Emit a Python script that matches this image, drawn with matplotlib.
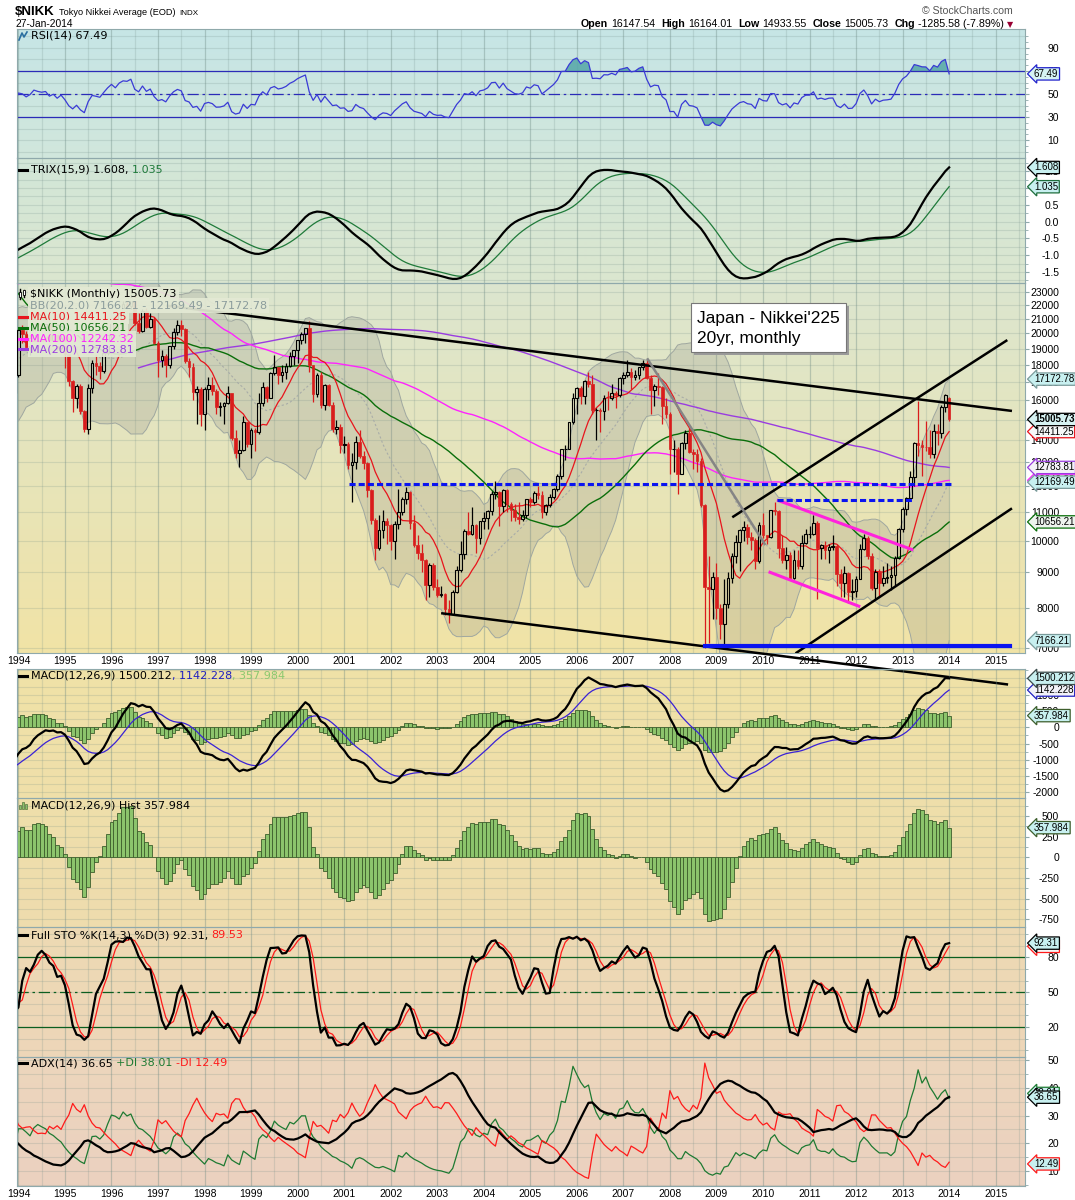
import numpy as np
import pandas as pd
import matplotlib
matplotlib.use("Agg")
import matplotlib.pyplot as plt
from matplotlib.colors import to_rgb
from matplotlib.lines import Line2D
from matplotlib.patches import Rectangle
from matplotlib.ticker import FixedLocator, NullFormatter
from matplotlib.transforms import blended_transform_factory

plt.rcParams["font.family"] = ["Liberation Sans", "DejaVu Sans"]

W, H, DPI = 1075, 1200, 100

# ---------------------------------------------------------------------------
# Data: Nikkei 225 monthly (warm-up closes 1980-1990 only
# feed the long moving averages)
# ---------------------------------------------------------------------------
warmup_close = [
    6650, 6700, 6600, 6750, 6900, 6950, 6950, 7050, 6800, 7000, 7250, 7116,          # 1980
    7250, 7350, 7450, 7650, 7600, 7850, 7900, 7650, 7200, 7600, 7550, 7682,          # 1981
    7750, 7600, 7100, 7300, 7400, 7100, 7000, 6900, 7000, 7400, 7900, 8017,          # 1982
    8000, 8050, 8300, 8500, 8600, 8800, 8900, 8900, 9100, 9200, 9300, 9894,          # 1983
    10200, 10000, 10500, 10800, 10400, 10000, 10200, 10800, 10800, 11000, 11400, 11543,  # 1984
    11800, 12000, 12600, 12400, 12500, 12700, 12100, 12300, 12700, 12800, 12800, 13113,  # 1985
    13000, 13600, 15800, 15800, 16500, 17600, 17800, 18800, 17400, 16900, 17800, 18701,  # 1986
    20000, 20700, 21600, 23300, 25000, 24200, 24500, 26000, 26000, 23300, 22600, 21564,  # 1987
    23700, 25000, 26200, 27400, 27400, 27800, 28000, 27400, 27900, 28000, 29600, 30159,  # 1988
    31600, 31900, 32800, 33700, 34200, 33000, 34900, 34500, 35600, 35500, 37300, 38916,  # 1989
    37200, 34600, 29900, 29500, 33100, 31900, 31000, 25900, 20980, 25200, 22450, 23849,  # 1990
]

# Jan 1991 .. Jan 2014
close = [
    23300, 26400, 26300, 26100, 25800, 23300, 23900, 22300, 23900, 25200, 22700, 22984,  # 1991
    22000, 21300, 19300, 17400, 18300, 15950, 15900, 17700, 17400, 16800, 17700, 16925,  # 1992
    17000, 16950, 18600, 20900, 20550, 19600, 20380, 21000, 20100, 19700, 16400, 17417,  # 1993
    20229, 19997, 19112, 19725, 20974, 20644, 20449, 20629, 19564, 19990, 19076, 19723,  # 1994
    18650, 17053, 16140, 16807, 15437, 14517, 16678, 18117, 17913, 17655, 18744, 19868,  # 1995
    20813, 20125, 21407, 22041, 21956, 22531, 20693, 20167, 21556, 20467, 21020, 19361,  # 1996
    18330, 18557, 18003, 19151, 20069, 20605, 20331, 18229, 17888, 16459, 16636, 15259,  # 1997
    16629, 16832, 16527, 15642, 15671, 15831, 16379, 14108, 13406, 13565, 14884, 13842,  # 1998
    14500, 14368, 15837, 16702, 16112, 17530, 17862, 17437, 17605, 17942, 18558, 18934,  # 1999
    19540, 19960, 20337, 17974, 16332, 17411, 15727, 16861, 15747, 14540, 14649, 13786,  # 2000
    13844, 12884, 12999, 13934, 13262, 12969, 11861, 10714, 9775, 10367, 10697, 10543,   # 2001
    9998, 10588, 11025, 11493, 11764, 10622, 9877, 9619, 9383, 8640, 9216, 8579,         # 2002
    8340, 8363, 7973, 7831, 8425, 9083, 9563, 10344, 10219, 10560, 10101, 10677,         # 2003
    10784, 11042, 11715, 11762, 11236, 11858, 11326, 11082, 10824, 10771, 10899, 11489,  # 2004
    11388, 11741, 11669, 11009, 11277, 11584, 11900, 12414, 13574, 13607, 14872, 16111,  # 2005
    16650, 16205, 17060, 16906, 15467, 15505, 15457, 16141, 16128, 16399, 16274, 17226,  # 2006
    17383, 17604, 17288, 17400, 17876, 18138, 17249, 16569, 16786, 16738, 15681, 15308,  # 2007
    13592, 13603, 12526, 13850, 14338, 13481, 13377, 13073, 11260, 8577, 8512, 8860,     # 2008
    7994, 7568, 8110, 8828, 9523, 9958, 10357, 10493, 10133, 10035, 9346, 10546,         # 2009
    10198, 10126, 11090, 11057, 9768, 9383, 9537, 8824, 9369, 9202, 9937, 10229,         # 2010
    10238, 10624, 9755, 9850, 9694, 9816, 9833, 8955, 8700, 8988, 8434, 8455,            # 2011
    8803, 9723, 10084, 9521, 8543, 9007, 8695, 8840, 8870, 8928, 9446, 10395,            # 2012
    11139, 11559, 12398, 13861, 13775, 13677, 13668, 13389, 14456, 14328, 15662, 16291,  # 2013
    15005.73,                                                                            # 2014
]
high = [
    24100, 26500, 27100, 26900, 26500, 26000, 24300, 24000, 24200, 25300, 25300, 23200,  # 1991
    23800, 22300, 21500, 19500, 18900, 18400, 16500, 18000, 18900, 17600, 17900, 17800,  # 1992
    17300, 17400, 18700, 21000, 21200, 20800, 20500, 21300, 21200, 20600, 19900, 17900,  # 1993
    20300, 20600, 20200, 20000, 21000, 21550, 21000, 20800, 20700, 20100, 20000, 19900,  # 1994
    19800, 18700, 17100, 16900, 16900, 15500, 16900, 18300, 18600, 18200, 18800, 19900,  # 1995
    20900, 21200, 21500, 22300, 22300, 22750, 22700, 21400, 21700, 21800, 21400, 21100,  # 1996
    19500, 18900, 18700, 19200, 20400, 20900, 20900, 20400, 18400, 18100, 16800, 16700,  # 1997
    16700, 17300, 17300, 16600, 15900, 15900, 16800, 16400, 14500, 14000, 15200, 14900,  # 1998
    14600, 14600, 16400, 17000, 16800, 17600, 18600, 17900, 18000, 18100, 18800, 18950,  # 1999
    19600, 20100, 20400, 20833, 18000, 17500, 17600, 16900, 16900, 15900, 15000, 14800,  # 2000
    14200, 13900, 13400, 14200, 14500, 13500, 13000, 11900, 10800, 10900, 11100, 10800,  # 2001
    10600, 10700, 11900, 11600, 11980, 11800, 10900, 10200, 9900, 9400, 9300, 9300,      # 2002
    8800, 8600, 8400, 8200, 8500, 9200, 10000, 10400, 11000, 11200, 10600, 10700,        # 2003
    11000, 11100, 11800, 12200, 11800, 11900, 11900, 11400, 11300, 11400, 11100, 11500,  # 2004
    11600, 11800, 12000, 11800, 11300, 11700, 11950, 12500, 13600, 13800, 14900, 16400,  # 2005
    16700, 16800, 17100, 17563, 17400, 15600, 15600, 16300, 16500, 16900, 16500, 17300,  # 2006
    17600, 18300, 17800, 17700, 17900, 18300, 18297, 17400, 16900, 17500, 16800, 16100,  # 2007
    15400, 14000, 13700, 13900, 14500, 14600, 13600, 13600, 13200, 11300, 9500, 9000,    # 2008
    9300, 8100, 8800, 9000, 9600, 10200, 10400, 10700, 10600, 10300, 10100, 10640,       # 2009
    10980, 10200, 11100, 11408, 11100, 10200, 9800, 9650, 9700, 9700, 10200, 10400,      # 2010
    10520, 10900, 10700, 9900, 10000, 9900, 10200, 9900, 9100, 9200, 9000, 8800,         # 2011
    8900, 9900, 10250, 10150, 9600, 9100, 9100, 9200, 9300, 9200, 9500, 10450,           # 2012
    11200, 11600, 12650, 13900, 15942, 14000, 14950, 14500, 14800, 14800, 15750, 16320,  # 2013
    16164.01,                                                                            # 2014
]
low = [
    22100, 23200, 25900, 25600, 25300, 23000, 22800, 21500, 22200, 23800, 22500, 21800,  # 1991
    21400, 20300, 19100, 16600, 17200, 15700, 15000, 14300, 17200, 16400, 16700, 16800,  # 1992
    16300, 16500, 16700, 18500, 20100, 19500, 19300, 20000, 19800, 19400, 16100, 16100,  # 1993
    17300, 19400, 19000, 18600, 19700, 20500, 20300, 20200, 19300, 19400, 18900, 18900,  # 1994
    17800, 16800, 15400, 15600, 15300, 14400, 14300, 16400, 17400, 17200, 17500, 18600,  # 1995
    19700, 19900, 19800, 21300, 21400, 21700, 20600, 20000, 20100, 20400, 20400, 19300,  # 1996
    17300, 17900, 17300, 17800, 19000, 19900, 19800, 18100, 17300, 16000, 14800, 14700,  # 1997
    14500, 16000, 16300, 15300, 15200, 14800, 15800, 14000, 13200, 12800, 13500, 13700,  # 1998
    13200, 13500, 14300, 15700, 15900, 16100, 17400, 16900, 17000, 17200, 17900, 18000,  # 1999
    18100, 19300, 19400, 17600, 15900, 16200, 15600, 15500, 15700, 14400, 14300, 13400,  # 2000
    13400, 12700, 11400, 12700, 13200, 12700, 11600, 10600, 9380, 9700, 10100, 9900,     # 2001
    9700, 9400, 10400, 10900, 11300, 10400, 9800, 9400, 9000, 8200, 8300, 8500,          # 2002
    8300, 8300, 7800, 7600, 7800, 8400, 9000, 9400, 10200, 10200, 9600, 9900,            # 2003
    10400, 10400, 10900, 11500, 10500, 11000, 11000, 10700, 10700, 10600, 10700, 10800,  # 2004
    11200, 11300, 11500, 10800, 10900, 11200, 11500, 11800, 12300, 13100, 13600, 14800,  # 2005
    15300, 15800, 15800, 16700, 15300, 14000, 14400, 15000, 15500, 16000, 15600, 16200,  # 2006
    16900, 17300, 16600, 17100, 17200, 17700, 17200, 15300, 15700, 16300, 14800, 15100,  # 2007
    12500, 12600, 11700, 12500, 13600, 13400, 12700, 12600, 11200, 6994, 7100, 7700,     # 2008
    7700, 7200, 7054, 8000, 8700, 9300, 9050, 10000, 9900, 9700, 9100, 9300,             # 2009
    10100, 9900, 10100, 10900, 9450, 9300, 9100, 8800, 8800, 9100, 9100, 9900,           # 2010
    10100, 10200, 8230, 9400, 9400, 9300, 9700, 8600, 8300, 8300, 8135, 8200,            # 2011
    8300, 8800, 9700, 9400, 8500, 8240, 8300, 8600, 8700, 8500, 8600, 9400,              # 2012
    10300, 10900, 11500, 12000, 13300, 12415, 13500, 13200, 13200, 13800, 14100, 15400,  # 2013
    14933.55,                                                                            # 2014
]
JAN14_OPEN = 16147.54

# hand-drawn annotations: (year0, price0, year1, price1)
resistance_line = (1997.18, 21950, 2015.35, 15440)
support_line = (2003.11, 7851, 2015.24, 6193)
channel_upper = (2009.34, 10823, 2015.25, 19565)
channel_lower = (2010.70, 6869, 2015.35, 11151)
gray_line = (2007.51, 18408, 2010.05, 9865)
pink_upper = (2010.30, 11467, 2013.23, 9700)
pink_lower = (2010.12, 9022, 2012.09, 8026)
# horizontal levels: (year0, year1, price)
blue_dash_long = (2001.10, 2014.05, 12092)
blue_dash_short = (2010.30, 2013.23, 11467)
blue_floor = (2008.76, 2015.31, 7039)

# ---------------------------------------------------------------------------
# Series + indicators
# ---------------------------------------------------------------------------
close_all = np.array(warmup_close + close, dtype=float)
t_all = 1980 + np.arange(len(close_all)) / 12.0
c = np.array(close, float)
h = np.array(high, float)
l = np.array(low, float)
o = np.concatenate([[warmup_close[-1]], c[:-1]])
o[-1] = JAN14_OPEN
t = t_all[len(warmup_close):]

s_all = pd.Series(close_all)
ma10 = s_all.rolling(10).mean().to_numpy()
ma50 = s_all.rolling(50).mean().to_numpy()
ma100 = s_all.rolling(100).mean().to_numpy()
ma200 = s_all.rolling(200).mean().to_numpy()
bb_mid = s_all.rolling(20).mean().to_numpy()
bb_sd = s_all.rolling(20).std(ddof=0).to_numpy()
bb_up, bb_lo = bb_mid + 2 * bb_sd, bb_mid - 2 * bb_sd


def wilder(x, n):
    x = np.asarray(x, float)
    out = np.full(len(x), np.nan)
    s = np.where(~np.isnan(x))[0][0]
    out[s + n - 1] = np.mean(x[s:s + n])
    for i in range(s + n, len(x)):
        out[i] = (out[i - 1] * (n - 1) + x[i]) / n
    return out


d = np.diff(close_all, prepend=np.nan)
gain = np.where(d > 0, d, 0.0)
loss = np.where(d < 0, -d, 0.0)
gain[0] = loss[0] = np.nan
rsi = 100 - 100 / (1 + wilder(gain, 14) / wilder(loss, 14))

e1 = s_all.ewm(span=15, adjust=False).mean()
e2 = e1.ewm(span=15, adjust=False).mean()
e3 = e2.ewm(span=15, adjust=False).mean()
trix = 100 * e3.pct_change()
trix_sig = trix.ewm(span=9, adjust=False).mean()

macd = s_all.ewm(span=12, adjust=False).mean() - s_all.ewm(span=26, adjust=False).mean()
macd_sig = macd.ewm(span=9, adjust=False).mean()
macd_hist = (macd - macd_sig).to_numpy()
macd, macd_sig = macd.to_numpy(), macd_sig.to_numpy()

ll14 = pd.Series(l).rolling(14).min().to_numpy()
hh14 = pd.Series(h).rolling(14).max().to_numpy()
fast_k = 100 * (c - ll14) / (hh14 - ll14)
sto_k = pd.Series(fast_k).rolling(3).mean().to_numpy()
sto_d = pd.Series(sto_k).rolling(3).mean().to_numpy()

pc = np.concatenate([[np.nan], c[:-1]])
ph = np.concatenate([[np.nan], h[:-1]])
pl = np.concatenate([[np.nan], l[:-1]])
tr = np.fmax(h - l, np.fmax(np.abs(h - pc), np.abs(l - pc)))
up_mv, dn_mv = h - ph, pl - l
pdm = np.where((up_mv > dn_mv) & (up_mv > 0), up_mv, 0.0)
mdm = np.where((dn_mv > up_mv) & (dn_mv > 0), dn_mv, 0.0)
tr[0] = pdm[0] = mdm[0] = np.nan
atr = wilder(tr, 14)
pdi = 100 * wilder(pdm, 14) / atr
mdi = 100 * wilder(mdm, 14) / atr
dx = 100 * np.abs(pdi - mdi) / (pdi + mdi)
adx = wilder(dx, 14)

# ---------------------------------------------------------------------------
# Layout helpers
# ---------------------------------------------------------------------------
fig = plt.figure(figsize=(W / DPI, H / DPI), dpi=DPI)
fig.patch.set_facecolor("white")

PL, PR = 17, 1025
X0, X1 = 1993.97, 2015.63
SPINE = "#8fa9ab"
GRID = "#6d8a84"
RED = "#d91c1c"


def make_panel(top, bot, c_top, c_bot, ylim, hgrid, log=False, years=False):
    pos = [PL / W, 1 - bot / H, (PR - PL) / W, (bot - top) / H]
    bg = fig.add_axes(pos, zorder=0)
    g = np.linspace(0, 1, 128)[:, None, None]
    img = (1 - g) * np.array(to_rgb(c_top))[None, None, :] + g * np.array(to_rgb(c_bot))[None, None, :]
    bg.imshow(img, aspect="auto", extent=[0, 1, 0, 1], interpolation="bilinear")
    bg.set_axis_off()
    ax = fig.add_axes(pos, zorder=1)
    ax.patch.set_alpha(0)
    if log:
        ax.set_yscale("log")
    ax.set_xlim(X0, X1)
    ax.set_ylim(*ylim)
    for sp in ax.spines.values():
        sp.set_color(SPINE)
    for yr in np.arange(1994, 2016, 0.5):
        ax.axvline(yr, color=GRID, alpha=0.38 if yr % 1 == 0 else 0.2, lw=0.9, zorder=0.5)
    for gy in hgrid:
        ax.axhline(gy, color=GRID, alpha=0.2, lw=0.8, zorder=0.5)
    ax.set_xticks(np.arange(1994, 2016))
    ax.set_xticklabels([str(y) for y in range(1994, 2016)])
    ax.tick_params(axis="x", length=0, labelbottom=years, labelsize=7.5, pad=2)
    return ax


def yticks(ax, ticks, labels, minor=()):
    ax.yaxis.tick_right()
    ax.set_yticks(ticks)
    ax.set_yticklabels(labels)
    ax.yaxis.set_minor_locator(FixedLocator(list(minor)))
    ax.yaxis.set_minor_formatter(NullFormatter())
    ax.tick_params(axis="y", which="major", length=3, color=SPINE, labelsize=7.5, pad=21.6)
    ax.tick_params(axis="y", which="minor", length=2, color=SPINE)
    for lab in ax.get_yticklabels():
        lab.set_horizontalalignment("right")


def tag(ax, val, txt, ec, fc="#c8f0f0", bold=False):
    tr_ = blended_transform_factory(ax.transAxes, ax.transData)
    ax.text(1.0 + 9 / 1008, val, txt, transform=tr_, ha="left", va="center",
            fontsize=7, fontweight="bold" if bold else "normal",
            bbox=dict(boxstyle="larrow,pad=0.12", fc=fc, ec=ec, lw=0.9),
            clip_on=False, zorder=10)


def text_run(x, y, parts, align="left", width=None, bbox=None, va="center"):
    r = fig.canvas.get_renderer()
    scale = 1.0
    for attempt in range(2):
        objs, ws = [], []
        for s, kw, gap in parts:
            kw = dict(kw)
            kw["fontsize"] = kw.get("fontsize", 8) * scale
            tt = fig.text(0, 1 - y / H, s, va=va, ha="left", **kw)
            if bbox:
                tt.set_bbox(bbox)
            objs.append(tt)
            ws.append(tt.get_window_extent(r).width + gap)
        total = sum(ws)
        if width is None or attempt == 1:
            break
        scale = width / total
        for tt in objs:
            tt.remove()
    xx = x - total if align == "right" else x
    for tt, w in zip(objs, ws):
        tt.set_x(xx / W)
        xx += w


def icon(x, y, color):
    fig.add_artist(Line2D([x / W, (x + 8) / W], [1 - y / H] * 2, color=color, lw=2.2, zorder=5))


LBL = dict(family="DejaVu Sans", fontsize=8)

# ---------------------------------------------------------------------------
# RSI
# ---------------------------------------------------------------------------
ax = make_panel(29, 158, "#c6e5e6", "#d1e7dc", (-5.6, 106.5), np.arange(0, 101, 10))
yticks(ax, [10, 30, 50, 70, 90], ["10", "30", "50", "70", "90"], minor=np.arange(0, 101, 5))
rsi_f = np.where(np.isnan(rsi), 50, rsi)
ax.fill_between(t_all, rsi_f, 70, where=rsi_f >= 70, interpolate=True, color="#5aa9aa", alpha=0.9, lw=0)
ax.fill_between(t_all, rsi_f, 30, where=rsi_f <= 30, interpolate=True, color="#5aa9aa", alpha=0.9, lw=0)
ax.axhline(70, color="#2b2bb8", lw=0.9)
ax.axhline(30, color="#2b2bb8", lw=0.9)
ax.axhline(50, color="#2b2bb8", lw=0.9, ls=(0, (9, 3, 2, 3)))
ax.plot(t_all, rsi, color="#3a3ad6", lw=0.9)
tag(ax, 67.49, "67.49", "#2222cc", fc="#d6f4f4")
text_run(31, 36, [("RSI(14) 67.49", LBL, 0)])
fig.add_artist(Line2D([19 / W, 22 / W, 24 / W, 27 / W], [1 - 40 / H, 1 - 33 / H, 1 - 37 / H, 1 - 32 / H],
                      color="#2b6fa0", lw=1.2, zorder=5))

# ---------------------------------------------------------------------------
# TRIX
# ---------------------------------------------------------------------------
ax = make_panel(158, 283, "#d2e6d8", "#dbe6cf", (-1.83, 1.89), np.arange(-1.75, 1.8, 0.25))
yticks(ax, [-1.5, -1.0, -0.5, 0.0, 0.5, 1.0, 1.5],
       ["-1.5", "-1.0", "-0.5", "0.0", "0.5", "1.0", "1.5"], minor=np.arange(-1.75, 1.8, 0.25))
ax.plot(t_all, trix_sig, color="#1f7a3a", lw=0.9)
ax.plot(t_all, trix, color="black", lw=1.6)
tag(ax, 1.035, "1.035", "#1e6e3c")
tag(ax, 1.608, "1.608", "black")
icon(19, 170, "black")
text_run(31, 170, [("TRIX(15,9) 1.608, ", dict(LBL, color="black"), 0),
                   ("1.035", dict(LBL, color="#1f7a3a"), 0)])

# ---------------------------------------------------------------------------
# Price
# ---------------------------------------------------------------------------
ax = make_panel(283, 653, "#dce6cf", "#f1e3a6", (6877, 23675), np.arange(7000, 23001, 1000),
                log=True, years=True)
yticks(ax, np.arange(7000, 23001, 1000), [str(v) for v in range(7000, 23001, 1000)])
ax.fill_between(t_all, bb_lo, bb_up, color="#7f7f7f", alpha=0.2, lw=0, zorder=1)
ax.plot(t_all, bb_up, color="#9fa7a0", lw=0.7, zorder=1.5)
ax.plot(t_all, bb_lo, color="#9fa7a0", lw=0.7, zorder=1.5)
ax.plot(t_all, bb_mid, color="#a8aca8", lw=0.8, ls=(0, (2, 2)), zorder=1.5)
ax.plot(t_all, ma200, color="#9a3ce0", lw=1.0, zorder=2)
ax.plot(t_all, ma100, color="#ff22ff", lw=1.0, zorder=2)
ax.plot(t_all, ma50, color="#0a6e0a", lw=1.0, zorder=2)
ax.plot(t_all, ma10, color="#e8141c", lw=0.9, zorder=2)

vis = t >= 1993.9
tv, ov, cv, hv, lv = t[vis], o[vis], c[vis], h[vis], l[vis]
down = cv < ov
top, bot = np.maximum(ov, cv), np.minimum(ov, cv)
wick = np.where(down, RED, "black")
ax.vlines(tv, top, hv, colors=wick, lw=0.9, zorder=4)
ax.vlines(tv, lv, bot, colors=wick, lw=0.9, zorder=4)
ax.bar(tv[down], (top - bot)[down], bottom=bot[down], width=0.058, color=RED,
       edgecolor=RED, lw=0.5, zorder=5)
ax.bar(tv[~down], (top - bot)[~down], bottom=bot[~down], width=0.058, facecolor="none",
       edgecolor="black", lw=0.8, zorder=5)

for seg, col, lw_ in [(resistance_line, "black", 1.8), (channel_upper, "black", 1.8),
                      (channel_lower, "black", 1.8), (gray_line, "#858585", 1.8),
                      (pink_upper, "#ff22dd", 2.2), (pink_lower, "#ff22dd", 2.2)]:
    ax.plot([seg[0], seg[2]], [seg[1], seg[3]], color=col, lw=lw_, zorder=6,
            solid_capstyle="butt")
ax.plot([support_line[0], support_line[2]], [support_line[1], support_line[3]],
        color="black", lw=1.8, zorder=6, clip_on=False)
for seg in (blue_dash_long, blue_dash_short):
    ax.plot([seg[0], seg[1]], [seg[2], seg[2]], color="#0a14f0", lw=2.2,
            ls=(0, (2, 1)), zorder=6)
ax.plot([blue_floor[0], blue_floor[1]], [blue_floor[2]] * 2, color="#0a14f0", lw=3.0, zorder=6)

tag(ax, 7166.21, "7166.21", "#7a9a9a")
tag(ax, 10656.21, "10656.21", "#0a6e0a", fc="#eef4ee")
tag(ax, 12242.32, "12242.32", "#ff22ff", fc="#f6eef6")
tag(ax, 12169.49, "12169.49", "#7a9a9a")
tag(ax, 12783.81, "12783.81", "#9a3ce0", fc="#f4f2f8")
tag(ax, 14411.25, "14411.25", "#e8141c", fc="#f6f8f8")
tag(ax, 15005.73, "15005.73", "black", fc="#d6f2f2", bold=True)
tag(ax, 17172.78, "17172.78", "#7a9a9a")

LEG_BOX = dict(boxstyle="square,pad=0.2", fc="#e3e9d4", ec="none", alpha=0.93)
text_run(30, 294, [("$NIKK (Monthly) 15005.73", dict(LBL, color="black"), 0)], bbox=LEG_BOX)
text_run(30, 305.5, [("BB(20,2.0) 7166.21 - 12169.49 - 17172.78", dict(LBL, color="#8b9c9c"), 0)],
         bbox=LEG_BOX)
for yy, txt, col in [(316.7, "MA(10) 14411.25", "#e8141c"), (327.7, "MA(50) 10656.21", "#0a6e0a"),
                     (338.5, "MA(100) 12242.32", "#ff22ff"), (349.3, "MA(200) 12783.81", "#9a3ce0")]:
    text_run(30, yy, [(txt, dict(LBL, color=col), 0)], bbox=LEG_BOX)
    icon(19, yy, col)
for k, (y0, y1) in enumerate([(289, 299), (290, 297)]):
    xk = 20 + 4 * k
    fig.add_artist(Line2D([xk / W] * 2, [1 - y0 / H, 1 - y1 / H], color="black", lw=1.0, zorder=5))
    fig.add_artist(Rectangle(((xk - 1) / W, 1 - (y1 - 2) / H), 2 / W, 5 / H,
                             transform=fig.transFigure, fc="white", ec="black", lw=0.6, zorder=6))

# note box
fig.add_artist(Rectangle((694 / W, 1 - 355 / H), 155 / W, 49 / H, transform=fig.transFigure,
                         fc="#9a9a9a", ec="none", zorder=8))
fig.add_artist(Rectangle((691 / W, 1 - 352 / H), 155 / W, 49 / H, transform=fig.transFigure,
                         fc="white", ec="#777777", lw=0.8, zorder=9))
fig.text(697 / W, 1 - 318 / H, "Japan - Nikkei'225", fontsize=12.5, va="center", zorder=10)
fig.text(697 / W, 1 - 339 / H, "20yr, monthly", fontsize=12.5, va="center", zorder=10)

# ---------------------------------------------------------------------------
# MACD
# ---------------------------------------------------------------------------
HIST_FC, HIST_EC = "#8cc46c", "#3d5e2c"
vm = t_all >= 1993.9
ax = make_panel(669, 798, "#f0e2a7", "#efdfaa", (-2169, 1788), np.arange(-2000, 1751, 250))
yticks(ax, np.arange(-2000, 1501, 500), [str(v) for v in range(-2000, 1501, 500)],
       minor=np.arange(-2000, 1751, 250))
ax.bar(t_all[vm], macd_hist[vm], width=1 / 12, color=HIST_FC, edgecolor=HIST_EC, lw=0.6, zorder=2)
ax.plot(t_all, macd_sig, color="#3a22d6", lw=0.9, zorder=3)
ax.plot(t_all, macd, color="black", lw=1.6, zorder=3)
tag(ax, 357.984, "357.984", HIST_EC)
tag(ax, 1142.228, "1142.228", "#2020c0", fc="#f2f2f8")
tag(ax, 1500.212, "1500.212", "#3a4a4a")
icon(19, 676, "black")
text_run(31, 676, [("MACD(12,26,9) 1500.212", dict(LBL, color="black"), 0),
                   (", 1142.228", dict(LBL, color="#2020c0"), 0),
                   (", 357.984", dict(LBL, color="#8cc870"), 0)])

# ---------------------------------------------------------------------------
# MACD histogram
# ---------------------------------------------------------------------------
ax = make_panel(798, 927, "#efdfaa", "#eedcae", (-842, 716), np.arange(-750, 701, 125))
yticks(ax, np.arange(-750, 501, 250), [str(v) for v in range(-750, 501, 250)],
       minor=np.arange(-750, 701, 125))
ax.bar(t_all[vm], macd_hist[vm], width=1 / 12, color=HIST_FC, edgecolor=HIST_EC, lw=0.6, zorder=2)
tag(ax, 357.984, "357.984", HIST_EC)
for k, hh_ in enumerate([4, 7, 5]):
    fig.add_artist(Rectangle(((19 + 3 * k) / W, 1 - 809 / H), 2 / W, hh_ / H,
                             transform=fig.transFigure, fc=HIST_FC, ec=HIST_EC, lw=0.4))
text_run(31, 805, [("MACD(12,26,9) Hist 357.984", dict(LBL, color="black"), 0)])

# ---------------------------------------------------------------------------
# Full stochastics
# ---------------------------------------------------------------------------
ax = make_panel(927, 1057, "#eedab3", "#edd6b9", (-5.9, 106.2), np.arange(0, 101, 10))
yticks(ax, [20, 50, 80], ["20", "50", "80"], minor=np.arange(0, 101, 10))
ax.axhline(80, color="#0b5e20", lw=0.9)
ax.axhline(20, color="#0b5e20", lw=0.9)
ax.axhline(50, color="#0b5e20", lw=0.9, ls=(0, (9, 3, 2, 3)))
ax.plot(t, sto_d, color="#ff1a1a", lw=0.9)
ax.plot(t, sto_k, color="black", lw=1.6)
tag(ax, 89.53, "89.53", "#ff1a1a", fc="#f6f6f6")
tag(ax, 92.31, "92.31", "black")
icon(19, 935, "black")
text_run(31, 935, [("Full STO %K(14,3) %D(3) 92.31, ", dict(LBL, color="black"), 0),
                   ("89.53", dict(LBL, color="#ff1a1a"), 0)])

# ---------------------------------------------------------------------------
# ADX
# ---------------------------------------------------------------------------
ax = make_panel(1057, 1186, "#edd6bc", "#ebd1c0", (4.5, 51.2), np.arange(5, 51, 5), years=True)
yticks(ax, [10, 20, 30, 40, 50], ["10", "20", "30", "40", "50"], minor=np.arange(5, 51, 5))
ax.plot(t, pdi, color="#1e7a32", lw=0.9)
ax.plot(t, mdi, color="#ff1a1a", lw=0.9)
ax.plot(t, adx, color="black", lw=1.6)
tag(ax, 38.01, "38.01", "#1e7a32")
tag(ax, 36.65, "36.65", "black")
tag(ax, 12.49, "12.49", "#ff1a1a")
icon(19, 1063, "black")
text_run(31, 1063, [("ADX(14) 36.65 ", dict(LBL, color="black"), 0),
                    ("+DI 38.01 ", dict(LBL, color="#1e7a32"), 0),
                    ("-DI 12.49", dict(LBL, color="#ff1a1a"), 0)])

# ---------------------------------------------------------------------------
# Header
# ---------------------------------------------------------------------------
text_run(15, 15, [("$NIKK", dict(fontsize=9.5, fontweight="bold"), 4),
                  ("Tokyo Nikkei Average (EOD)", dict(fontsize=6.6), 4),
                  ("INDX", dict(fontsize=5.8), 0)], va="baseline")
text_run(15, 27, [("27-Jan-2014", dict(fontsize=7.4), 0)], va="baseline")
text_run(1013, 14, [("\u00a9 StockCharts.com", dict(fontsize=7.6, color="#555555"), 0)],
         align="right", va="baseline")
B = dict(fontsize=8, fontweight="bold")
N = dict(fontsize=8)
text_run(1013, 27, [("Open", B, 3), ("16147.54", N, 6), ("High", B, 3), ("16164.01", N, 6),
                    ("Low", B, 3), ("14933.55", N, 6), ("Close", B, 3), ("15005.73", N, 6),
                    ("Chg", B, 3), ("-1285.58 (-7.89%)", N, 3),
                    ("\u25bc", dict(fontsize=6, color="#990033", family="DejaVu Sans"), 0)],
         align="right", width=433, va="baseline")

fig.savefig("out.png", dpi=DPI, facecolor="white")
